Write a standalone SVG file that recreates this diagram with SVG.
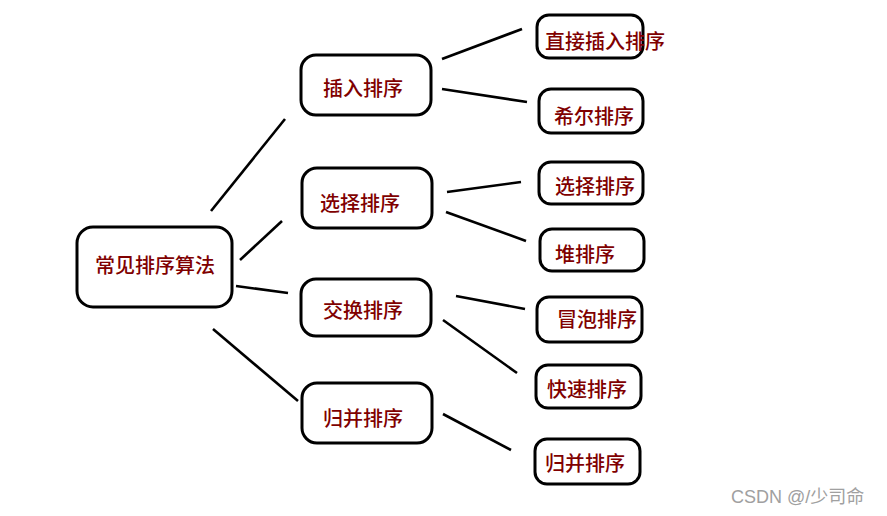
<svg xmlns="http://www.w3.org/2000/svg" width="887" height="516" viewBox="0 0 887 516">
<style>
.box{fill:#fff;stroke:#000;stroke-width:3}
.lbl{font-family:"Noto Sans CJK SC","Noto Sans",sans-serif;font-size:20px;font-weight:500;fill:#800000;dominant-baseline:central}
.edge{stroke:#000;stroke-width:2.6;fill:none}
.wm{font-family:"Liberation Sans","Noto Sans CJK SC",sans-serif;font-size:18px;fill:#a0a0a0}
</style>
<rect width="887" height="516" fill="#fff"/>
<g id="connectors">
<line class="edge" x1="211" y1="211" x2="285" y2="119"/>
<line class="edge" x1="240" y1="260" x2="282" y2="221"/>
<line class="edge" x1="236" y1="286" x2="288" y2="293"/>
<line class="edge" x1="213" y1="329" x2="298" y2="401"/>
<line class="edge" x1="442" y1="59" x2="522" y2="29"/>
<line class="edge" x1="442" y1="89" x2="527" y2="102"/>
<line class="edge" x1="447" y1="192" x2="521" y2="182"/>
<line class="edge" x1="446" y1="212" x2="526" y2="241"/>
<line class="edge" x1="456" y1="296" x2="525" y2="309"/>
<line class="edge" x1="443" y1="320" x2="517" y2="373"/>
<line class="edge" x1="443" y1="414" x2="511" y2="450"/>
</g>
<g id="root">
<rect class="box" x="77" y="227" width="155" height="80" rx="16"/>
<text class="lbl" x="95" y="264">常见排序算法</text>
</g>
<g id="insert">
<rect class="box" x="301" y="55" width="130" height="60" rx="15"/>
<text class="lbl" x="323" y="87">插入排序</text>
</g>
<g id="select">
<rect class="box" x="302" y="168" width="130" height="60" rx="15"/>
<text class="lbl" x="320" y="202">选择排序</text>
</g>
<g id="exchange">
<rect class="box" x="301" y="279" width="130" height="57" rx="15"/>
<text class="lbl" x="323" y="309">交换排序</text>
</g>
<g id="merge">
<rect class="box" x="302" y="383" width="130" height="60" rx="15"/>
<text class="lbl" x="323" y="417">归并排序</text>
</g>
<g id="direct-insert">
<rect class="box" x="537" y="15" width="106" height="43" rx="12"/>
<text class="lbl" x="545" y="40">直接插入排序</text>
</g>
<g id="shell">
<rect class="box" x="539" y="89" width="104" height="44" rx="12"/>
<text class="lbl" x="554" y="115">希尔排序</text>
</g>
<g id="select-leaf">
<rect class="box" x="539" y="162" width="104" height="42" rx="12"/>
<text class="lbl" x="555" y="185">选择排序</text>
</g>
<g id="heap">
<rect class="box" x="540" y="229" width="104" height="42" rx="12"/>
<text class="lbl" x="555" y="253">堆排序</text>
</g>
<g id="bubble">
<rect class="box" x="537" y="297" width="105" height="45" rx="12"/>
<text class="lbl" x="557" y="318">冒泡排序</text>
</g>
<g id="quick">
<rect class="box" x="536" y="365" width="105" height="43" rx="12"/>
<text class="lbl" x="547" y="388">快速排序</text>
</g>
<g id="merge-leaf">
<rect class="box" x="535" y="439" width="105" height="45" rx="12"/>
<text class="lbl" x="545" y="462">归并排序</text>
</g>
<text class="wm" x="731" y="503">CSDN @/少司命</text>
</svg>
